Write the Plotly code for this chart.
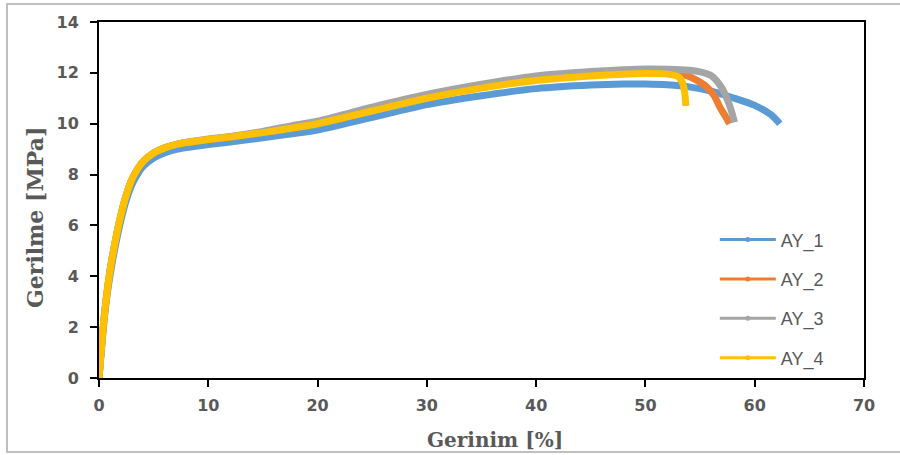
import plotly.graph_objects as go

# ---- data ----
ay1_x = [0, 0.3, 0.6, 1.0, 1.5, 2, 2.5, 3, 3.5, 4, 5, 6, 7, 8, 10, 12, 15, 18, 20, 25, 30, 35, 40, 45, 48, 50, 52, 54, 56, 58, 60, 61.5, 62.3]
ay1_y = [0, 1.5, 2.8, 4.0, 5.2, 6.2, 7.0, 7.6, 8.0, 8.3, 8.65, 8.85, 8.98, 9.06, 9.18, 9.28, 9.45, 9.62, 9.75, 10.25, 10.75, 11.1, 11.38, 11.52, 11.56, 11.56, 11.53, 11.45, 11.28, 11.02, 10.72, 10.35, 10.0]

ay2_x = [0, 0.3, 0.6, 1.0, 1.5, 2, 2.5, 3, 3.5, 4, 5, 6, 7, 8, 10, 12, 15, 18, 20, 25, 30, 35, 40, 45, 48, 50, 52, 53.7, 54.5, 55.6, 56.3, 56.8, 57.3, 57.7]
ay2_y = [0, 1.6, 2.9, 4.2, 5.4, 6.4, 7.2, 7.8, 8.2, 8.5, 8.85, 9.05, 9.18, 9.26, 9.38, 9.48, 9.67, 9.9, 10.05, 10.6, 11.1, 11.5, 11.83, 12.0, 12.05, 12.05, 12.0, 11.9, 11.75, 11.45, 11.1, 10.66, 10.3, 10.0]

ay3_x = [0, 0.3, 0.6, 1.0, 1.5, 2, 2.5, 3, 3.5, 4, 5, 6, 7, 8, 10, 12, 15, 18, 20, 25, 30, 35, 40, 45, 48, 50, 52, 54, 55, 56, 56.5, 57, 57.4, 57.8, 58.15]
ay3_y = [0, 1.6, 2.9, 4.2, 5.4, 6.4, 7.2, 7.8, 8.2, 8.5, 8.85, 9.05, 9.18, 9.27, 9.4, 9.5, 9.7, 9.95, 10.1, 10.65, 11.15, 11.55, 11.88, 12.05, 12.12, 12.15, 12.14, 12.1, 12.04, 11.9, 11.7, 11.4, 11.05, 10.6, 10.05]

ay4_x = [0, 0.3, 0.6, 1.0, 1.5, 2, 2.5, 3, 3.5, 4, 5, 6, 7, 8, 10, 12, 15, 18, 20, 25, 30, 35, 40, 45, 48, 50, 52, 53, 53.4, 53.6, 53.7]
ay4_y = [0, 1.6, 2.9, 4.2, 5.4, 6.4, 7.2, 7.8, 8.2, 8.5, 8.85, 9.05, 9.18, 9.26, 9.38, 9.48, 9.65, 9.85, 10.0, 10.5, 11.0, 11.4, 11.7, 11.88, 11.95, 11.97, 11.95, 11.85, 11.6, 11.2, 10.7]

series_names = ["AY_1", "AY_2", "AY_3", "AY_4"]
series_x = [ay1_x, ay2_x, ay3_x, ay4_x]
series_y = [ay1_y, ay2_y, ay3_y, ay4_y]
colors = ["#5B9BD5", "#ED7D31", "#A5A5A5", "#FFC000"]

x_ticks = [0, 10, 20, 30, 40, 50, 60, 70]
y_ticks = [0, 2, 4, 6, 8, 10, 12, 14]

fig = go.Figure()
for name, xs, ys, c in zip(series_names, series_x, series_y, colors):
    fig.add_trace(go.Scatter(
        x=xs, y=ys, mode="lines", name=name, legendgroup=name,
        line=dict(color=c, width=7, shape="spline", smoothing=0.7),
        showlegend=False, hoverinfo="skip"))
    fig.add_trace(go.Scatter(
        x=[None], y=[None], mode="lines+markers", name=name, legendgroup=name,
        line=dict(color=c, width=3), marker=dict(color=c, size=5),
        showlegend=True))

tick_font = dict(family="DejaVu Sans", size=16, color="#595959", weight="bold")
title_font = dict(family="DejaVu Serif", size=20, color="#595959", weight="bold")

fig.update_layout(
    width=900, height=455,
    margin=dict(l=99, r=36, t=22, b=77),
    paper_bgcolor="white", plot_bgcolor="white",
    showlegend=True,
    legend=dict(x=0.805, y=0.44, xanchor="left", yanchor="top",
                bgcolor="rgba(0,0,0,0)", traceorder="grouped",
                tracegroupgap=13, itemwidth=56,
                font=dict(family="Liberation Sans", size=18, color="#595959")),
    xaxis=dict(range=[0, 70], tickvals=x_ticks, ticktext=[str(v) for v in x_ticks],
               showgrid=False, zeroline=False, showline=True, linecolor="black",
               linewidth=2, mirror=True, ticks="outside", ticklen=7, tickwidth=2,
               tickcolor="black", tickfont=tick_font, ticklabelstandoff=5),
    yaxis=dict(range=[0, 14], tickvals=y_ticks, ticktext=[str(v) for v in y_ticks],
               showgrid=False, zeroline=False, showline=True, linecolor="black",
               linewidth=2, mirror=True, ticks="outside", ticklen=7, tickwidth=2,
               tickcolor="black", tickfont=tick_font, ticklabelstandoff=8),
    annotations=[
        dict(text="Gerinim [%]", xref="paper", yref="paper",
             x=(495 - 99) / 765, y=(378 - 440) / 356, xanchor="center", yanchor="middle",
             showarrow=False, font=title_font),
        dict(text="Gerilme [MPa]", xref="paper", yref="paper",
             x=(35 - 99) / 765, y=(378 - 218) / 356, xanchor="center", yanchor="middle",
             textangle=-90, showarrow=False,
             font=dict(family="DejaVu Serif", size=22, color="#595959", weight="bold")),
    ],
    shapes=[dict(type="rect", xref="paper", yref="paper",
                 x0=(7 - 99) / 765, x1=(905 - 99) / 765,
                 y0=(378 - 452) / 356, y1=(378 - 4) / 356,
                 line=dict(color="#BFBFBF", width=2), layer="below")],
)

fig.write_html("out.html", config={"displayModeBar": False},
               post_script="document.body.style.margin='0px';")
